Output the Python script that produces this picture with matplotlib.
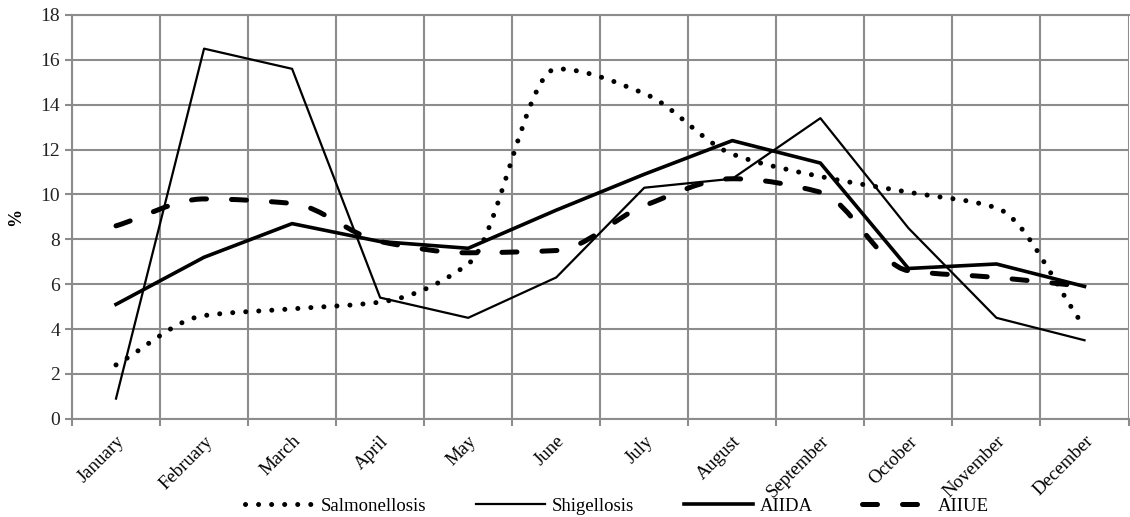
import numpy as np
import matplotlib
matplotlib.use("Agg")
import matplotlib.pyplot as plt
from matplotlib.path import Path
from matplotlib.patches import PathPatch
from matplotlib.lines import Line2D

plt.rcParams['font.family'] = 'serif'
plt.rcParams['font.serif'] = ['Liberation Serif', 'DejaVu Serif']

# Data
months = ["January", "February", "March", "April", "May", "June", "July",
          "August", "September", "October", "November", "December"]
salmonellosis = [2.4, 4.6, 4.9, 5.2, 6.9, 15.6, 14.5, 11.8, 10.8, 10.1, 9.4, 4.1]
shigellosis = [0.9, 16.5, 15.6, 5.4, 4.5, 6.3, 10.3, 10.7, 13.4, 8.5, 4.5, 3.5]
aiida = [5.1, 7.2, 8.7, 7.9, 7.6, 9.3, 10.9, 12.4, 11.4, 6.7, 6.9, 5.9]
aiiue = [8.6, 9.8, 9.6, 7.9, 7.4, 7.5, 9.5, 10.7, 10.1, 6.6, 6.3, 5.9]


# Smoothed line: cubic Bezier through the points, monotone (pchip-style) tangents
def smooth_path(x, y):
    x = np.asarray(x, float)
    y = np.asarray(y, float)
    h = np.diff(x)
    s = np.diff(y) / h
    n = len(y)
    d = np.zeros(n)
    for i in range(1, n - 1):
        if s[i - 1] * s[i] > 0:
            d[i] = 2 * s[i - 1] * s[i] / (s[i - 1] + s[i])
    d[0] = s[0]
    d[-1] = s[-1]

    verts = [(x[0], y[0])]
    codes = [Path.MOVETO]
    for i in range(n - 1):
        verts += [(x[i] + h[i] / 3, y[i] + d[i] * h[i] / 3),
                  (x[i + 1] - h[i] / 3, y[i + 1] - d[i + 1] * h[i] / 3),
                  (x[i + 1], y[i + 1])]
        codes += [Path.CURVE4] * 3
    return Path(verts, codes)


fig = plt.figure(figsize=(11.3, 5.17), dpi=100)
ax = fig.add_axes([0.0637, 0.19, 0.935, 0.781])

x = np.arange(len(months))
ax.set_xlim(-0.5, len(months) - 0.5)
ax.set_ylim(0, 18)

# grid lines between categories, labels at category centres
ax.set_xticks(np.arange(-0.5, len(months), 1))
ax.set_xticklabels([])
ax.set_xticks(x, minor=True)
ax.set_xticklabels(months, minor=True, rotation=45, ha='right', va='top',
                   rotation_mode='anchor', fontsize=13.5)
ax.tick_params(axis='x', which='minor', length=0, pad=10)
ax.tick_params(axis='x', which='major', length=5, width=1.5, color='#8c8c8c')
ax.set_yticks(np.arange(0, 19, 2))
ax.tick_params(axis='y', length=5, width=1.5, color='#8c8c8c', labelsize=14,
               labelcolor='#222222')
ax.grid(True, which='major', color='#8c8c8c', linewidth=1.5)
ax.set_axisbelow(True)
for s in ax.spines.values():
    s.set_color('#8c8c8c')
    s.set_linewidth(1.5)
ax.spines['right'].set_visible(False)

ax.set_ylabel('%', fontsize=13, fontweight='bold', labelpad=12)

# Salmonellosis - dotted, smoothed
p_sal = PathPatch(smooth_path(x, salmonellosis), fill=False, edgecolor='black',
                  linewidth=3.6, linestyle=(0, (0.01, 2.6)), capstyle='round')
ax.add_patch(p_sal)

# Shigellosis - thin straight
ax.plot(x, shigellosis, color='black', linewidth=1.6)

# AIIDA - thick straight
ax.plot(x, aiida, color='black', linewidth=2.6)

# AIIUE - thick dashed, smoothed
p_ue = PathPatch(smooth_path(x, aiiue), fill=False, edgecolor='black',
                 linewidth=3.6, linestyle=(0, (3, 5)), capstyle='round')
ax.add_patch(p_ue)

handles = [
    Line2D([], [], color='black', linewidth=3.6, linestyle=(0, (0.01, 2.6)),
           dash_capstyle='round'),
    Line2D([], [], color='black', linewidth=1.6),
    Line2D([], [], color='black', linewidth=2.6),
    Line2D([], [], color='black', linewidth=3.6, linestyle=(0, (3, 5)),
           dash_capstyle='round'),
]
fig.legend(handles, ["Salmonellosis", "Shigellosis", "AIIDA", "AIIUE"],
           loc='center', bbox_to_anchor=(0.546, 0.021), ncol=4,
           frameon=False, fontsize=13.5, handlelength=3.7, handletextpad=0.35,
           columnspacing=2.65, borderpad=0)

fig.savefig("out.png", dpi=100)
